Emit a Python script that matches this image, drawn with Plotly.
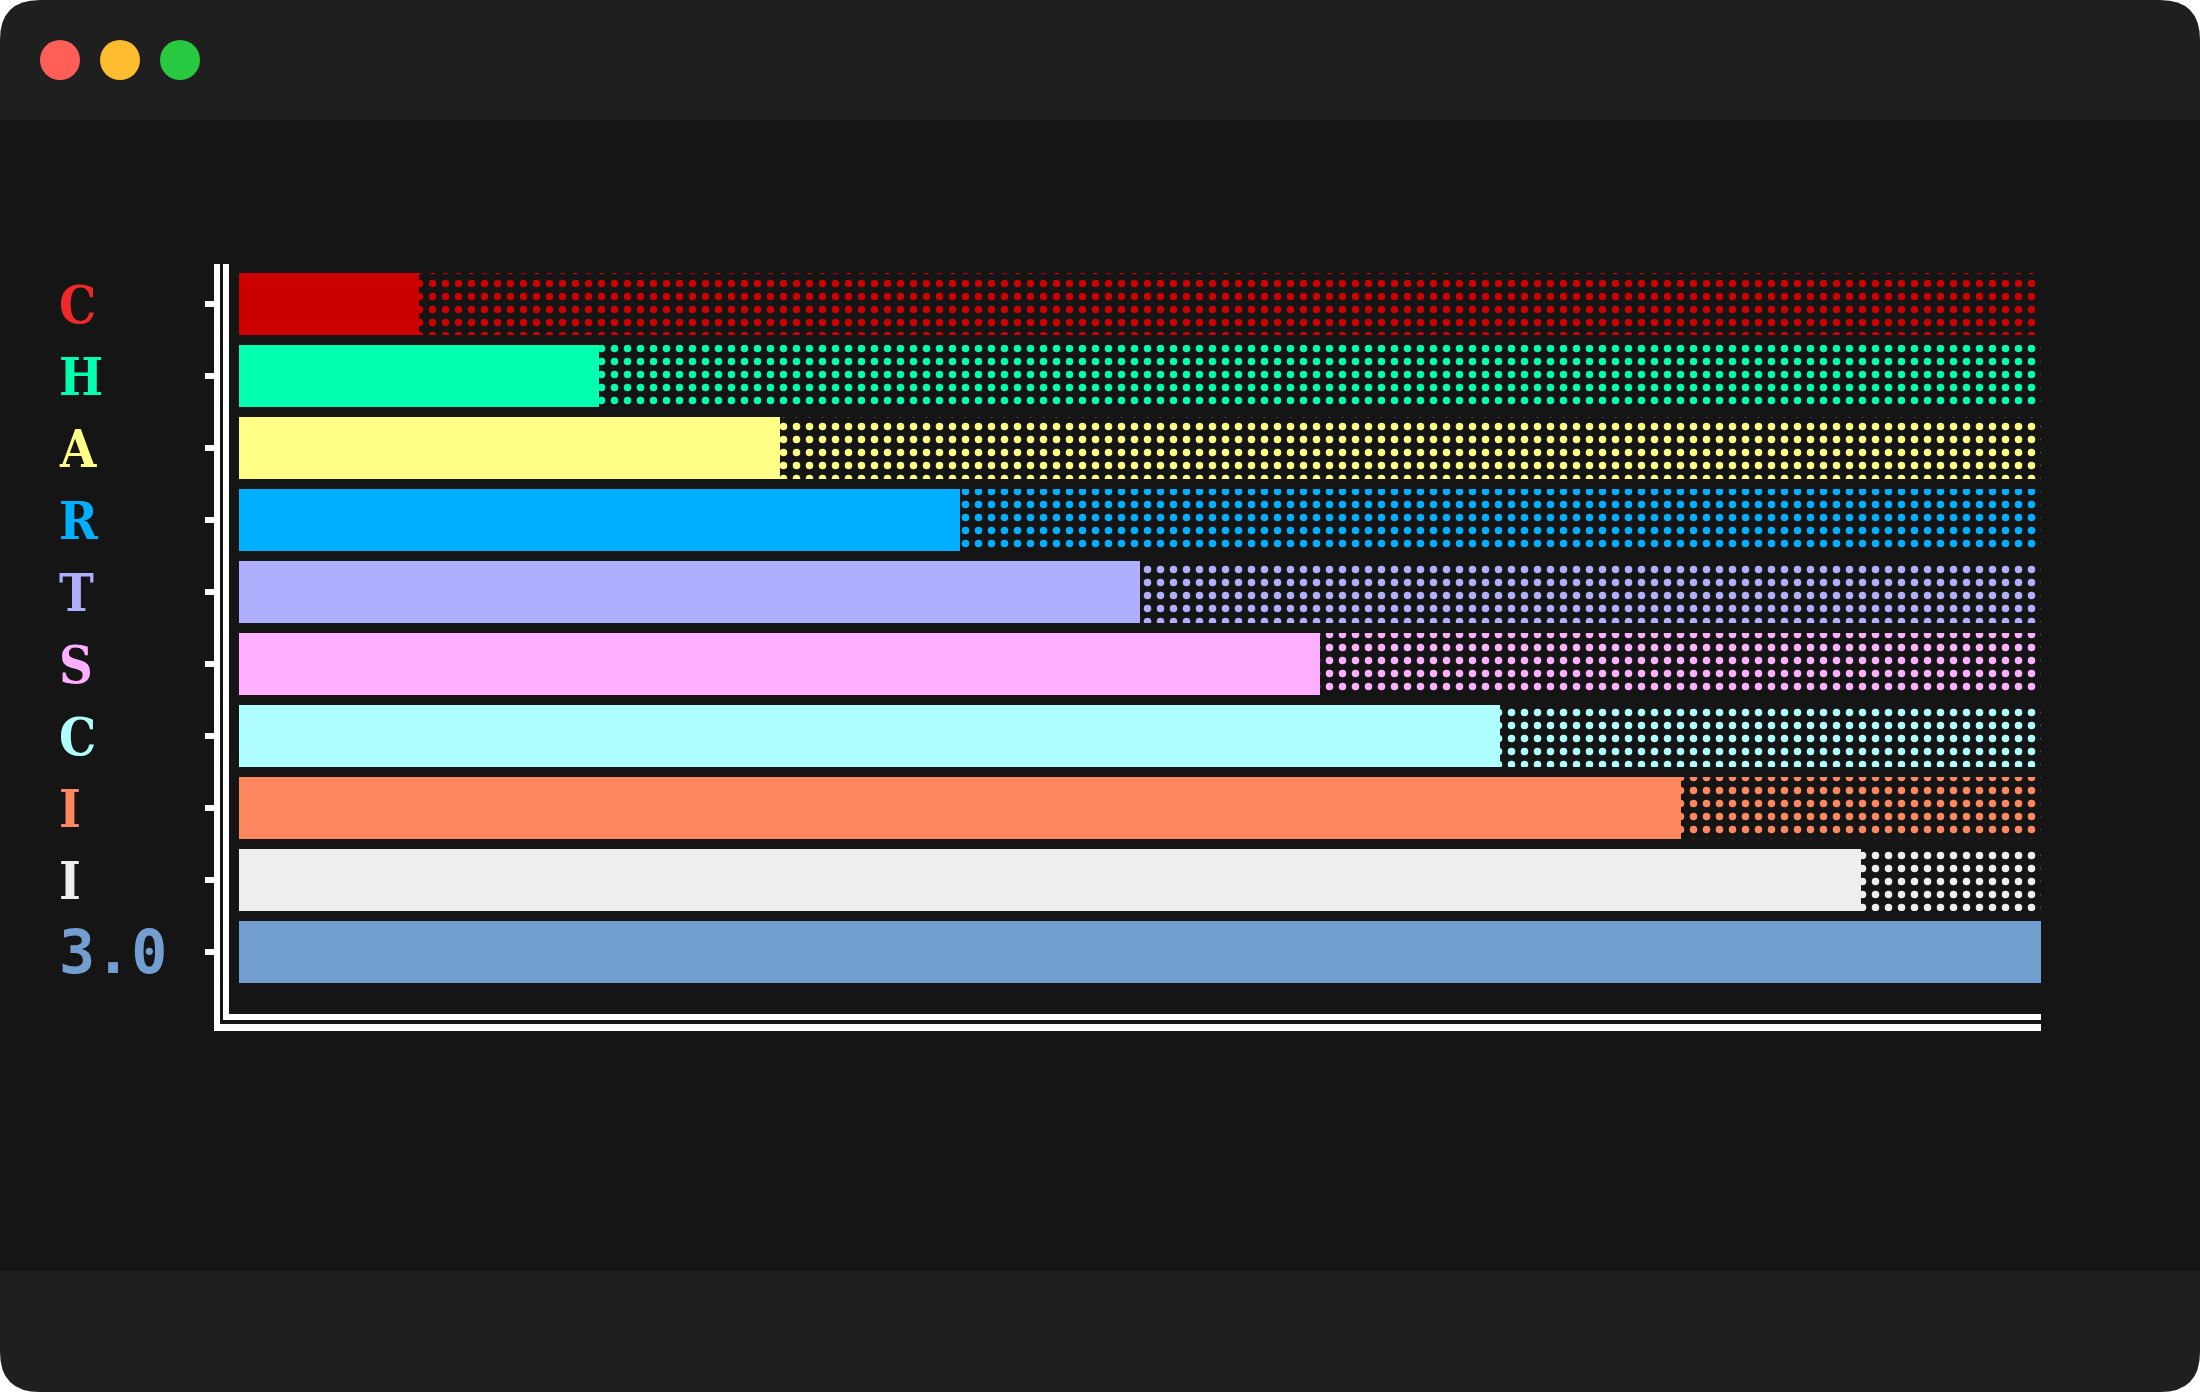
import plotly.graph_objects as go

# ---------------- data ----------------
labels = ["C", "H", "A", "R", "T", "S", "C", "I", "I", "3.0"]
values = [1, 2, 3, 4, 5, 6, 7, 8, 9, 10]
max_value = 10
bar_colors = ["#cc0000", "#00ffaf", "#ffff87", "#00afff", "#afafff",
              "#ffafff", "#afffff", "#ff875f", "#eeeeec", "#729fcf"]
label_colors = ["#ef2929", "#00ffaf", "#ffff87", "#00afff", "#afafff",
                "#ffafff", "#afffff", "#ff875f", "#eeeeec", "#729fcf"]

positions = list(range(len(labels)))
remainders = [max_value - v for v in values]

# ---------------- geometry (pixels) ----------------
W, H = 2200, 1392
L, R, T, B = 218, 159, 264, 361
PW = W - L - R
PH = H - T - B
x_zero_px, x_max_px = 239, 2041
px_per_unit = (x_max_px - x_zero_px) / max_value
x_range = [-(x_zero_px - L) / px_per_unit, max_value]
row_px = 72
first_center_px = 304
y_top = -(first_center_px - T) / row_px
y_bottom = (len(labels) - 1) + ((H - B) - (first_center_px + row_px * (len(labels) - 1))) / row_px


def xp(px):
    return (px - L) / PW


def yp(py):
    return (H - B - py) / PH


BG_BODY = "#151515"
BG_BAR = "#1f1f1f"

fig = go.Figure()

fig.add_trace(go.Bar(
    y=positions, x=values, orientation="h", width=0.85,
    marker=dict(color=bar_colors, line=dict(width=0)),
    hoverinfo="skip", showlegend=False,
))
fig.add_trace(go.Bar(
    y=positions, x=remainders, orientation="h", width=0.85,
    marker=dict(color=bar_colors, line=dict(width=0),
                pattern=dict(shape=".", fgcolor=bar_colors, bgcolor=BG_BODY,
                             fillmode="replace", size=13, solidity=0.26)),
    hoverinfo="skip", showlegend=False,
))

shapes = []
# window chrome
r = 40
title_path = (f"M {xp(0)},{yp(120)} L {xp(0)},{yp(r)} Q {xp(0)},{yp(0)} {xp(r)},{yp(0)} "
              f"L {xp(W - r)},{yp(0)} Q {xp(W)},{yp(0)} {xp(W)},{yp(r)} L {xp(W)},{yp(120)} Z")
footer_path = (f"M {xp(0)},{yp(1271)} L {xp(W)},{yp(1271)} L {xp(W)},{yp(H - r)} "
               f"Q {xp(W)},{yp(H)} {xp(W - r)},{yp(H)} L {xp(r)},{yp(H)} "
               f"Q {xp(0)},{yp(H)} {xp(0)},{yp(H - r)} Z")
shapes.append(dict(type="path", xref="paper", yref="paper", path=title_path,
                   fillcolor=BG_BAR, line=dict(width=0), layer="below"))
shapes.append(dict(type="rect", xref="paper", yref="paper",
                   x0=xp(0), x1=xp(W), y0=yp(120), y1=yp(1271),
                   fillcolor=BG_BODY, line=dict(width=0), layer="below"))
shapes.append(dict(type="path", xref="paper", yref="paper", path=footer_path,
                   fillcolor=BG_BAR, line=dict(width=0), layer="below"))
for cx, col in [(60, "#ff5f57"), (120, "#febc2e"), (180, "#28c840")]:
    shapes.append(dict(type="circle", xref="paper", yref="paper",
                       x0=xp(cx - 20), x1=xp(cx + 20), y0=yp(40), y1=yp(80),
                       fillcolor=col, line=dict(width=0), layer="below"))

# double axis lines
for (x0, x1, y0, y1) in [(214, 220, 264, 1031), (214, 2041, 1024, 1031),
                         (223, 229, 264, 1020), (223, 2041, 1014, 1020)]:
    shapes.append(dict(type="rect", xref="paper", yref="paper",
                       x0=xp(x0), x1=xp(x1), y0=yp(y1), y1=yp(y0),
                       fillcolor="#ffffff", line=dict(width=0), layer="above"))

annotations = []
for pos, lab, col in zip(positions, labels, label_colors):
    if lab.replace(".", "").isdigit():
        font = dict(family="DejaVu Sans Mono", size=60, color=col)
    else:
        font = dict(family="DejaVu Serif Condensed, DejaVu Serif", size=52, color=col)
    annotations.append(dict(x=xp(57), xref="paper", y=pos, yref="y",
                            text=f"<b>{lab}</b>", showarrow=False,
                            xanchor="left", yanchor="middle", font=font))

fig.update_layout(
    width=W, height=H,
    margin=dict(l=L, r=R, t=T, b=B, pad=0),
    paper_bgcolor="#ffffff",
    plot_bgcolor="rgba(0,0,0,0)",
    barmode="stack",
    bargap=0,
    shapes=shapes,
    annotations=annotations,
    xaxis=dict(range=x_range, showgrid=False, zeroline=False, showline=False,
               showticklabels=False, ticks="", fixedrange=True),
    yaxis=dict(range=[y_bottom, y_top], showgrid=False, zeroline=False, showline=False,
               linewidth=0,
               tickmode="array", tickvals=positions, ticktext=[""] * len(positions),
               ticks="outside", ticklen=12, tickwidth=6, tickcolor="#ffffff",
               showticklabels=True, fixedrange=True),
)

fig.write_html("out.html")
